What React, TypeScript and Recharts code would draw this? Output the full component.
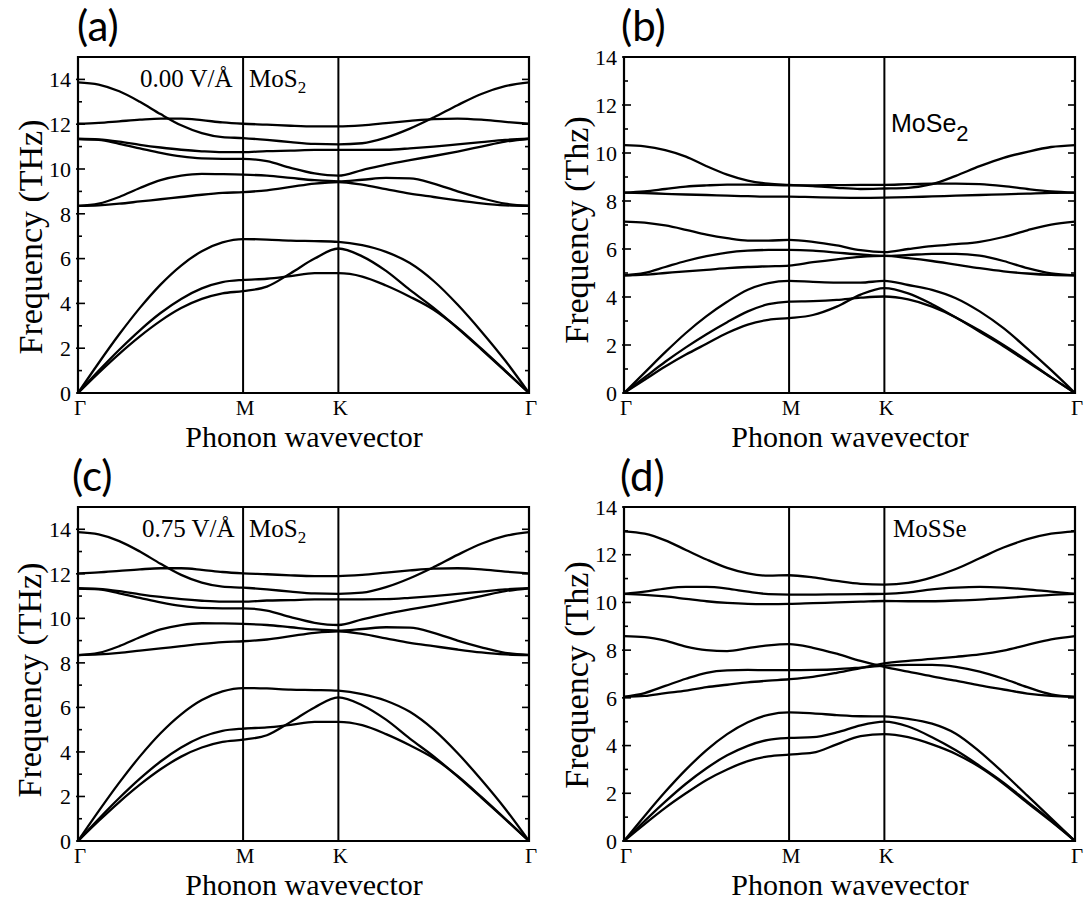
import React from 'react';
import { LineChart, Line, XAxis, YAxis, ReferenceLine, ReferenceArea } from 'recharts';

// Path Γ–M–K–Γ (hexagonal BZ, relative lengths)
const qPoints = [0, 0.0722, 0.1443, 0.2165, 0.2887, 0.3608, 0.4330, 0.5052, 0.5774,
  0.6607, 0.7440, 0.8274, 0.9107,
  0.9940, 1.0774, 1.1607, 1.2440, 1.3274, 1.4107, 1.4940, 1.5774];
const symmetryTicks = [0, 0.5774, 0.9107, 1.5774];
const symmetryLabels = ['Γ', 'M', 'K', 'Γ'];
const ticks15 = [0, 1, 2, 3, 4, 5, 6, 7, 8, 9, 10, 11, 12, 13, 14];
const ticks14 = [0, 1, 2, 3, 4, 5, 6, 7, 8, 9, 10, 11, 12, 13, 14];

// (a) MoS2, 0.00 V/Å
const bandsA = [
  [0, 0.9, 1.75, 2.53, 3.22, 3.79, 4.2, 4.45, 4.55, 4.75, 5.35, 6.0, 6.45, 6.1, 5.45, 4.6, 3.8, 2.9, 1.95, 0.98, 0],
  [0, 0.99, 1.93, 2.8, 3.57, 4.2, 4.67, 4.95, 5.05, 5.1, 5.22, 5.35, 5.35, 5.2, 4.8, 4.3, 3.72, 2.92, 1.98, 1.0, 0],
  [0, 1.34, 2.62, 3.8, 4.84, 5.69, 6.33, 6.72, 6.87, 6.85, 6.8, 6.78, 6.75, 6.6, 6.3, 5.8, 5.0, 3.95, 2.75, 1.45, 0],
  [8.35, 8.38, 8.45, 8.55, 8.65, 8.75, 8.85, 8.93, 8.97, 9.05, 9.2, 9.35, 9.42, 9.3, 9.1, 8.9, 8.75, 8.6, 8.47, 8.38, 8.35],
  [8.35, 8.45, 8.75, 9.15, 9.5, 9.7, 9.78, 9.77, 9.75, 9.7, 9.6, 9.5, 9.45, 9.52, 9.6, 9.58, 9.35, 9.0, 8.7, 8.45, 8.36],
  [11.33, 11.3, 11.12, 10.92, 10.72, 10.56, 10.47, 10.45, 10.45, 10.35, 10.05, 9.8, 9.7, 9.95, 10.2, 10.4, 10.58, 10.78, 11.0, 11.22, 11.35],
  [11.35, 11.32, 11.22, 11.08, 10.96, 10.86, 10.79, 10.75, 10.75, 10.8, 10.82, 10.85, 10.85, 10.85, 10.86, 10.92, 11.0, 11.1, 11.2, 11.3, 11.35],
  [12.02, 12.06, 12.13, 12.2, 12.25, 12.25, 12.18, 12.08, 12.02, 11.98, 11.93, 11.9, 11.9, 11.95, 12.05, 12.15, 12.23, 12.25, 12.2, 12.1, 12.02],
  [13.87, 13.77, 13.47, 13.0, 12.45, 11.95, 11.6, 11.42, 11.38, 11.3, 11.2, 11.12, 11.1, 11.15, 11.4, 11.8, 12.3, 12.85, 13.35, 13.7, 13.87],
];

// (b) MoSe2
const bandsB = [
  [0, 0.55, 1.1, 1.6, 2.05, 2.5, 2.85, 3.05, 3.12, 3.25, 3.6, 4.1, 4.37, 4.15, 3.7, 3.15, 2.6, 2.0, 1.35, 0.65, 0],
  [0, 0.65, 1.3, 1.9, 2.45, 2.95, 3.4, 3.7, 3.81, 3.83, 3.88, 3.97, 4.02, 3.9, 3.6, 3.15, 2.55, 1.95, 1.3, 0.65, 0],
  [0, 0.85, 1.7, 2.5, 3.2, 3.8, 4.3, 4.58, 4.67, 4.63, 4.6, 4.6, 4.67, 4.5, 4.3, 3.95, 3.4, 2.7, 1.85, 0.95, 0],
  [4.9, 4.93, 5.0, 5.07, 5.13, 5.2, 5.25, 5.28, 5.31, 5.45, 5.57, 5.67, 5.71, 5.62, 5.5, 5.35, 5.2, 5.07, 4.98, 4.92, 4.9],
  [4.9, 5.0, 5.25, 5.5, 5.7, 5.85, 5.93, 5.96, 5.96, 5.93, 5.85, 5.77, 5.71, 5.75, 5.8, 5.8, 5.72, 5.5, 5.2, 4.98, 4.9],
  [7.14, 7.1, 6.98, 6.8, 6.6, 6.45, 6.35, 6.35, 6.38, 6.3, 6.15, 5.95, 5.87, 6.0, 6.12, 6.2, 6.3, 6.5, 6.78, 7.02, 7.14],
  [8.35, 8.33, 8.3, 8.27, 8.25, 8.22, 8.2, 8.18, 8.18, 8.16, 8.14, 8.13, 8.14, 8.16, 8.19, 8.22, 8.25, 8.28, 8.31, 8.34, 8.35],
  [8.35, 8.4, 8.5, 8.6, 8.65, 8.68, 8.68, 8.67, 8.65, 8.65, 8.66, 8.67, 8.67, 8.7, 8.72, 8.72, 8.7, 8.62, 8.5, 8.4, 8.35],
  [10.33, 10.28, 10.12, 9.85, 9.45, 9.1, 8.85, 8.72, 8.67, 8.62, 8.55, 8.5, 8.52, 8.55, 8.7, 9.05, 9.45, 9.8, 10.05, 10.25, 10.33],
];

// (c) MoS2, 0.75 V/Å
const bandsC = [
  [0, 0.9, 1.75, 2.53, 3.22, 3.79, 4.2, 4.45, 4.55, 4.75, 5.35, 6.0, 6.45, 6.1, 5.45, 4.6, 3.8, 2.9, 1.95, 0.98, 0],
  [0, 0.99, 1.93, 2.8, 3.57, 4.2, 4.67, 4.95, 5.05, 5.1, 5.22, 5.35, 5.35, 5.2, 4.8, 4.3, 3.72, 2.92, 1.98, 1.0, 0],
  [0, 1.34, 2.62, 3.8, 4.84, 5.69, 6.33, 6.72, 6.87, 6.85, 6.8, 6.78, 6.75, 6.6, 6.3, 5.8, 5.0, 3.95, 2.75, 1.45, 0],
  [8.35, 8.38, 8.45, 8.55, 8.65, 8.75, 8.85, 8.93, 8.97, 9.05, 9.2, 9.35, 9.42, 9.3, 9.1, 8.9, 8.75, 8.6, 8.47, 8.38, 8.35],
  [8.35, 8.45, 8.75, 9.15, 9.5, 9.7, 9.78, 9.77, 9.75, 9.7, 9.6, 9.5, 9.45, 9.52, 9.6, 9.58, 9.35, 9.0, 8.7, 8.45, 8.36],
  [11.33, 11.3, 11.12, 10.92, 10.72, 10.56, 10.47, 10.45, 10.45, 10.35, 10.05, 9.8, 9.7, 9.95, 10.2, 10.4, 10.58, 10.78, 11.0, 11.22, 11.35],
  [11.35, 11.32, 11.22, 11.08, 10.96, 10.86, 10.79, 10.75, 10.75, 10.8, 10.82, 10.85, 10.85, 10.85, 10.86, 10.92, 11.0, 11.1, 11.2, 11.3, 11.35],
  [12.02, 12.06, 12.13, 12.2, 12.25, 12.25, 12.18, 12.08, 12.02, 11.98, 11.93, 11.9, 11.9, 11.95, 12.05, 12.15, 12.23, 12.25, 12.2, 12.1, 12.02],
  [13.87, 13.77, 13.47, 13.0, 12.45, 11.95, 11.6, 11.42, 11.38, 11.3, 11.2, 11.12, 11.1, 11.15, 11.4, 11.8, 12.3, 12.85, 13.35, 13.7, 13.87],
];

// (d) MoSSe
const bandsD = [
  [0, 0.71, 1.39, 2.0, 2.56, 3.0, 3.35, 3.55, 3.62, 3.7, 4.05, 4.4, 4.48, 4.35, 4.05, 3.65, 3.1, 2.4, 1.6, 0.82, 0],
  [0, 0.84, 1.65, 2.4, 3.05, 3.59, 3.99, 4.24, 4.32, 4.35, 4.55, 4.85, 5.0, 4.8, 4.35, 3.8, 3.15, 2.45, 1.65, 0.85, 0],
  [0, 1.05, 2.06, 2.99, 3.81, 4.48, 4.98, 5.29, 5.39, 5.35, 5.28, 5.23, 5.22, 5.12, 4.92, 4.5, 3.75, 2.85, 1.9, 0.95, 0],
  [6.04, 6.08, 6.2, 6.3, 6.45, 6.55, 6.65, 6.72, 6.78, 6.88, 7.05, 7.25, 7.45, 7.55, 7.63, 7.72, 7.82, 7.98, 8.22, 8.45, 8.59],
  [6.04, 6.2, 6.5, 6.8, 7.05, 7.15, 7.17, 7.16, 7.16, 7.17, 7.2, 7.27, 7.35, 7.38, 7.38, 7.3, 7.1, 6.8, 6.45, 6.15, 6.04],
  [8.59, 8.55, 8.4, 8.15, 8.0, 7.96, 8.08, 8.2, 8.25, 8.1, 7.85, 7.55, 7.3, 7.1, 6.9, 6.72, 6.52, 6.35, 6.18, 6.08, 6.04],
  [10.36, 10.32, 10.25, 10.15, 10.05, 9.98, 9.94, 9.93, 9.94, 9.97, 10.0, 10.03, 10.06, 10.05, 10.05, 10.08, 10.12, 10.18, 10.25, 10.32, 10.36],
  [10.36, 10.45, 10.58, 10.65, 10.65, 10.58, 10.45, 10.35, 10.33, 10.33, 10.34, 10.35, 10.36, 10.42, 10.55, 10.62, 10.65, 10.62, 10.55, 10.45, 10.36],
  [12.98, 12.88, 12.6, 12.2, 11.8, 11.45, 11.22, 11.12, 11.14, 11.05, 10.9, 10.78, 10.75, 10.82, 11.05, 11.4, 11.85, 12.3, 12.65, 12.88, 12.98],
];

const SERIF = '"Liberation Serif", "Times New Roman", serif';
const SANS = '"Liberation Sans", Arial, sans-serif';
const LABEL_FONT = 'Lato, "Open Sans", sans-serif';

function buildRows(bands: number[][]) {
  return qPoints.map((q, i) => {
    const row: any = { q };
    bands.forEach((b, j) => { row['b' + j] = b[i]; });
    return row;
  });
}

const LeftTick = (props: any) => {
  const { x, y, payload } = props;
  const v = payload.value;
  const major = v % 2 === 0;
  return (
    <g>
      <line x1={x - (major ? 2 : 0)} x2={x + (major ? 7 : 4)} y1={y} y2={y} stroke="#000" strokeWidth={1.6} />
      {major && (
        <text x={x - 7} y={y} dy="0.35em" textAnchor="end" fontFamily={SERIF} fontSize={22} fill="#000">{v}</text>
      )}
    </g>
  );
};

const RightTick = (props: any) => {
  const { x, y, payload } = props;
  const major = payload.value % 2 === 0;
  return <line x1={x} x2={x - (major ? 7 : 4)} y1={y} y2={y} stroke="#000" strokeWidth={1.6} />;
};

const XTick = (props: any) => {
  const { x, y, payload } = props;
  const idx = symmetryTicks.indexOf(payload.value);
  const label = idx >= 0 ? symmetryLabels[idx] : '';
  return (
    <text x={x + 2} y={y + 22} textAnchor="middle" fontFamily={SERIF} fontSize={21} fill="#000">{label}</text>
  );
};

type PanelProps = {
  left: number; top: number; width: number; height: number;
  bands: number[][]; yMax: number; ticks: number[];
  marginLeft: number; rightAxisWidth: number; marginBottom: number;
};

function Panel({ left, top, width, height, bands, yMax, ticks, marginLeft, rightAxisWidth, marginBottom }: PanelProps) {
  const rows = buildRows(bands);
  const qMax = symmetryTicks[symmetryTicks.length - 1];
  return (
    <div style={{ position: 'absolute', left, top, width, height }}>
      <LineChart width={width} height={height} data={rows}
        margin={{ top: 57, right: 0, bottom: marginBottom, left: marginLeft }}>
        <XAxis type="number" dataKey="q" domain={[0, qMax]} ticks={symmetryTicks} interval={0}
          axisLine={false} tickLine={false} tickSize={0} tickMargin={0} height={30} tick={XTick} />
        <YAxis type="number" domain={[0, yMax]} ticks={ticks} interval={0} width={40}
          axisLine={false} tickLine={false} tickSize={0} tickMargin={0} tick={LeftTick} allowDataOverflow />
        <YAxis yAxisId="right" orientation="right" type="number" domain={[0, yMax]} ticks={ticks} interval={0}
          width={rightAxisWidth} axisLine={false} tickLine={false} tickSize={0} tickMargin={0} tick={RightTick} allowDataOverflow />
        <ReferenceArea x1={0} x2={qMax} y1={0} y2={yMax} fill="none" stroke="#000" strokeWidth={2.2} ifOverflow="visible" />
        <ReferenceLine x={symmetryTicks[1]} stroke="#000" strokeWidth={2} />
        <ReferenceLine x={symmetryTicks[2]} stroke="#000" strokeWidth={2} />
        {bands.map((_, j) => (
          <Line key={j} type="monotone" dataKey={'b' + j} stroke="#000" strokeWidth={2.3}
            dot={false} activeDot={false} isAnimationActive={false} />
        ))}
      </LineChart>
    </div>
  );
}

export default function App() {
  return (
    <div style={{ position: 'absolute', left: 0, top: 0, width: 1088, height: 901, background: '#fff' }}>
      <Panel left={0} top={0} width={545} height={450} bands={bandsA} yMax={15} ticks={ticks15}
        marginLeft={38} rightAxisWidth={16} marginBottom={27} />
      <Panel left={545} top={0} width={543} height={450} bands={bandsB} yMax={14} ticks={ticks14}
        marginLeft={39} rightAxisWidth={13} marginBottom={27} />
      <Panel left={0} top={450} width={545} height={451} bands={bandsC} yMax={15} ticks={ticks15}
        marginLeft={38} rightAxisWidth={16} marginBottom={30} />
      <Panel left={545} top={450} width={543} height={451} bands={bandsD} yMax={14} ticks={ticks14}
        marginLeft={39} rightAxisWidth={13} marginBottom={30} />
      <svg width={1088} height={901} style={{ position: 'absolute', left: 0, top: 0, pointerEvents: 'none' }}>
        {/* panel letters */}
        <text x={77} y={41} fontFamily={LABEL_FONT} fontSize={42} fill="#000">(a)</text>
        <text x={621} y={41} fontFamily={LABEL_FONT} fontSize={42} fill="#000">(b)</text>
        <text x={72} y={491} fontFamily={LABEL_FONT} fontSize={42} fill="#000">(c)</text>
        <text x={620} y={491} fontFamily={LABEL_FONT} fontSize={42} fill="#000">(d)</text>

        {/* y titles */}
        <text x={30} y={237} transform="rotate(-90 30 237)" textAnchor="middle" dominantBaseline="central"
          fontFamily={SERIF} fontSize={34} fill="#000">Frequency (THz)</text>
        <text x={576} y={230} transform="rotate(-90 576 230)" textAnchor="middle" dominantBaseline="central"
          fontFamily={SERIF} fontSize={34} fill="#000">Frequency (Thz)</text>
        <text x={29} y={680} transform="rotate(-90 29 680)" textAnchor="middle" dominantBaseline="central"
          fontFamily={SERIF} fontSize={34} fill="#000">Frequency (THz)</text>
        <text x={576} y={675} transform="rotate(-90 576 675)" textAnchor="middle" dominantBaseline="central"
          fontFamily={SERIF} fontSize={34} fill="#000">Frequency (Thz)</text>

        {/* x titles */}
        <text x={304} y={447} textAnchor="middle" fontFamily={SERIF} fontSize={30} fill="#000">Phonon wavevector</text>
        <text x={850} y={447} textAnchor="middle" fontFamily={SERIF} fontSize={30} fill="#000">Phonon wavevector</text>
        <text x={304} y={895} textAnchor="middle" fontFamily={SERIF} fontSize={30} fill="#000">Phonon wavevector</text>
        <text x={850} y={895} textAnchor="middle" fontFamily={SERIF} fontSize={30} fill="#000">Phonon wavevector</text>

        {/* annotations */}
        <text x={140} y={87} fontFamily={SERIF} fontSize={25} fill="#000">0.00 V/Å</text>
        <text x={249} y={87} fontFamily={SERIF} fontSize={25} fill="#000">MoS<tspan fontSize={17} dy={6}>2</tspan></text>
        <text x={142} y={537} fontFamily={SERIF} fontSize={25} fill="#000">0.75 V/Å</text>
        <text x={249} y={537} fontFamily={SERIF} fontSize={25} fill="#000">MoS<tspan fontSize={17} dy={6}>2</tspan></text>
        <text x={891} y={132} fontFamily={SANS} fontSize={25} fill="#000">MoSe<tspan fontSize={22} dy={9}>2</tspan></text>
        <text x={893} y={537} fontFamily={SERIF} fontSize={25} fill="#000">MoSSe</text>
      </svg>
    </div>
  );
}
